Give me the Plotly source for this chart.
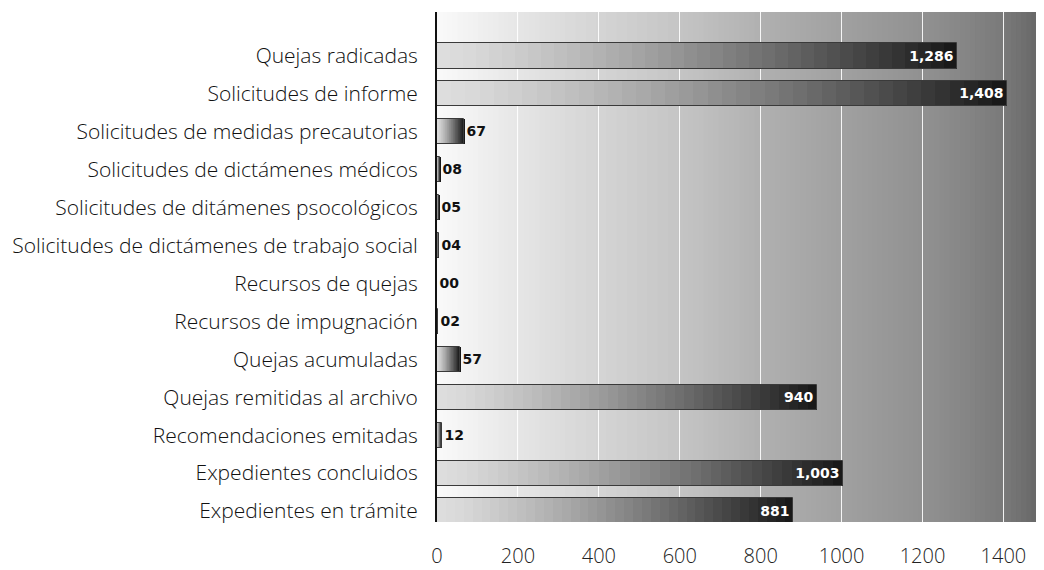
import plotly.graph_objects as go
import numpy as np

categories = [
    "Quejas radicadas",
    "Solicitudes de informe",
    "Solicitudes de medidas precautorias",
    "Solicitudes de dictámenes médicos",
    "Solicitudes de ditámenes psocológicos",
    "Solicitudes de dictámenes de trabajo social",
    "Recursos de quejas",
    "Recursos de impugnación",
    "Quejas acumuladas",
    "Quejas remitidas al archivo",
    "Recomendaciones emitadas",
    "Expedientes concluidos",
    "Expedientes en trámite",
]
values = [1286, 1408, 67, 8, 5, 4, 0, 2, 57, 940, 12, 1003, 881]
value_labels = ["1,286", "1,408", "67", "08", "05", "04", "00", "02", "57", "940", "12", "1,003", "881"]
x_ticks = [0, 200, 400, 600, 800, 1000, 1200, 1400]

X_MAX = 1520
N_SEG = 40
BAR_W = 0.66

fig = go.Figure()

# gradient-filled bars built as stacked segments of each value
for i in range(N_SEG):
    t = (i + 0.5) / N_SEG
    g = int(round(222 - 200 * t ** 1.3))
    col = f"rgb({g},{g},{g})"
    fig.add_trace(go.Bar(
        y=categories,
        x=[v / N_SEG for v in values],
        base=[v * i / N_SEG for v in values],
        orientation="h",
        width=BAR_W,
        marker=dict(color=col, line=dict(width=0)),
        hoverinfo="skip",
        showlegend=False,
    ))

# outline + labels
positions = ["inside" if v > 500 else "outside" for v in values]
fig.add_trace(go.Bar(
    y=categories,
    x=values,
    orientation="h",
    width=BAR_W,
    marker=dict(color="rgba(0,0,0,0)", line=dict(color="#3a3a3a", width=1)),
    text=value_labels,
    textposition=positions,
    insidetextanchor="end",
    insidetextfont=dict(color="white", size=14, family="DejaVu Sans", weight="bold"),
    outsidetextfont=dict(color="#111111", size=14, family="DejaVu Sans", weight="bold"),
    cliponaxis=False,
    showlegend=False,
))

# background gradient strips
stops_f = [0.0, 0.2, 0.4, 0.53, 0.66, 0.8, 0.92, 1.0]
stops_g = [250, 220, 196, 176, 160, 144, 122, 96]
N_BG = 120
shapes = []
for k in range(N_BG):
    f0 = k / N_BG
    f1 = (k + 1) / N_BG
    g = int(round(np.interp((f0 + f1) / 2, stops_f, stops_g)))
    shapes.append(dict(
        type="rect", xref="x domain", yref="y domain",
        x0=f0, x1=f1 + 0.002, y0=0, y1=1,
        fillcolor=f"rgb({g},{g},{g})", line=dict(width=0), layer="below",
    ))

fig.update_layout(
    width=1044, height=562,
    margin=dict(l=429, r=0, t=4, b=48, autoexpand=False),
    paper_bgcolor="white",
    plot_bgcolor="rgb(100,100,100)",
    barmode="overlay",
    bargap=0,
    shapes=shapes,
    font=dict(family="Open Sans", color="#222222"),
)
fig.update_xaxes(
    range=[0, X_MAX],
    tickvals=x_ticks,
    ticktext=[str(t) for t in x_ticks],
    tickfont=dict(size=20, family="Open Sans", weight=300, color="#222222"),
    showgrid=True, gridcolor="rgba(255,255,255,0.9)", gridwidth=1,
    zeroline=False, showline=False, automargin=False,
    ticks="", ticklabelstandoff=20,
)
fig.update_yaxes(
    type="category",
    categoryorder="array", categoryarray=categories,
    range=[12.29, -1.16],
    tickfont=dict(size=21, family="Open Sans", weight=300, color="#111111"),
    showgrid=False, zeroline=False, automargin=False,
    showline=True, linecolor="#111111", linewidth=2,
    ticks="", ticklabelstandoff=13,
)

fig.write_html("out.html")
